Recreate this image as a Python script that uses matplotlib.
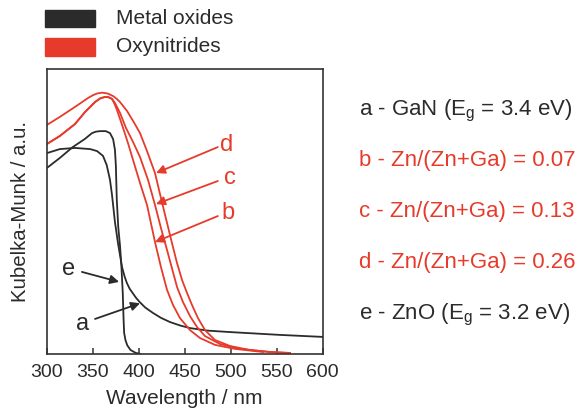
import matplotlib
matplotlib.use("Agg")
import matplotlib.pyplot as plt
from matplotlib.patches import Rectangle

plt.rcParams['font.family'] = ['Liberation Sans', 'DejaVu Sans']
plt.rcParams['mathtext.fontset'] = 'custom'
plt.rcParams['mathtext.rm'] = 'Liberation Sans'
plt.rcParams['mathtext.it'] = 'Liberation Sans'

BLACK = '#2b2b2b'
RED = '#e63b2a'

# Kubelka-Munk spectra (wavelength in nm, intensity in arbitrary units)
wl_a = [300, 314, 330.5, 347, 354.5, 361, 365, 368.6, 370.8, 374, 377.3, 381.7,
        384.5, 387, 390, 393.7, 397, 401, 407, 415.4, 424, 434, 445, 455.7, 475,
        499, 553.7, 600]
km_a = [0.705, 0.719, 0.723, 0.719, 0.712, 0.695, 0.663, 0.611, 0.558, 0.463,
        0.389, 0.305, 0.272, 0.249, 0.229, 0.212, 0.197, 0.182, 0.163, 0.144,
        0.127, 0.112, 0.100, 0.091, 0.082, 0.077, 0.067, 0.060]

wl_e = [300, 314, 328, 341, 349, 353, 357.7, 364, 368.6, 372, 374, 375, 376,
        377.6, 379.5, 381, 382.5, 383.4, 384, 385.5, 387.5, 391, 396.5, 402]
km_e = [0.653, 0.688, 0.726, 0.754, 0.775, 0.780, 0.782, 0.782, 0.775, 0.754,
        0.716, 0.660, 0.540, 0.445, 0.380, 0.310, 0.214, 0.120, 0.074, 0.048,
        0.030, 0.014, 0.004, 0.0]

wl_b = [300, 314, 330.5, 341.4, 352.3, 358, 363.2, 367, 370.8, 373.5, 376.2,
        381.7, 388.2, 394.7, 401.3, 408.9, 417.6, 424.1, 430.7, 437.2, 444.8,
        455.7, 466.6, 482.9, 504.7, 535.2]
km_b = [0.737, 0.765, 0.807, 0.849, 0.884, 0.897, 0.902, 0.901, 0.895, 0.878,
        0.856, 0.804, 0.740, 0.670, 0.600, 0.523, 0.393, 0.305, 0.225, 0.172,
        0.126, 0.084, 0.056, 0.032, 0.018, 0.007]

wl_c = [300, 314, 330.5, 341.4, 352.3, 358, 363.2, 367, 370.8, 374, 379.5, 386,
        393.7, 401.3, 410, 417.6, 424.1, 430.7, 441.6, 448.1, 455.7, 463.3, 472,
        488.4, 510.2, 542.8, 564.6]
km_c = [0.737, 0.765, 0.807, 0.849, 0.884, 0.897, 0.902, 0.901, 0.895, 0.881,
        0.846, 0.793, 0.744, 0.691, 0.611, 0.523, 0.442, 0.365, 0.235, 0.182,
        0.133, 0.095, 0.063, 0.035, 0.018, 0.007, 0.0035]

wl_d = [300, 314, 330.5, 344.6, 350, 354.5, 360, 366, 372, 376, 379.5, 387.1,
        393.7, 401.3, 408.9, 417.6, 424.1, 430.7, 436.1, 441.6, 447, 452.5,
        457.9, 464.4, 472, 482.9, 499.3, 521, 542.8, 564.6]
km_d = [0.804, 0.832, 0.867, 0.898, 0.908, 0.914, 0.917, 0.914, 0.905, 0.895,
        0.884, 0.853, 0.818, 0.775, 0.712, 0.635, 0.547, 0.460, 0.389, 0.319,
        0.260, 0.214, 0.172, 0.126, 0.084, 0.049, 0.028, 0.014, 0.007, 0.0035]

x_ticks = [300, 350, 400, 450, 500, 550, 600]

legend_labels = ['Metal oxides', 'Oxynitrides']
sample_labels = [r'a - GaN (E$_\mathregular{g}$ = 3.4 eV)',
                 'b - Zn/(Zn+Ga) = 0.07',
                 'c - Zn/(Zn+Ga) = 0.13',
                 'd - Zn/(Zn+Ga) = 0.26',
                 r'e - ZnO (E$_\mathregular{g}$ = 3.2 eV)']
sample_colors = [BLACK, RED, RED, RED, BLACK]

fig = plt.figure(figsize=(5.86, 4.19), dpi=100)
ax = fig.add_axes([47 / 586, 1 - 354 / 419, 275.5 / 586, 285 / 419])

lw = 1.3
for xs, ys, col in [(wl_a, km_a, BLACK), (wl_e, km_e, BLACK),
                    (wl_b, km_b, RED), (wl_c, km_c, RED), (wl_d, km_d, RED)]:
    ax.plot(xs, ys, color=col, lw=lw, solid_joinstyle='round')

ax.set_xlim(300, 600)
ax.set_ylim(0, 1)
ax.set_xticks(x_ticks)
ax.set_yticks([])
ax.tick_params(axis='x', direction='in', length=4.5, width=1.1, color='#333333',
               labelsize=14, labelcolor=BLACK, pad=7)
for sp in ax.spines.values():
    sp.set_color('#333333')
    sp.set_linewidth(1.2)

ax.set_xlabel('Wavelength / nm', fontsize=15, color=BLACK, labelpad=6)
ax.set_ylabel('Kubelka-Munk / a.u.', fontsize=14.7, color=BLACK, labelpad=12)

# curve labels with arrows
arrow_kw = dict(arrowstyle='-|>', lw=1.3, mutation_scale=13, shrinkA=0, shrinkB=0)
labels = [('d', (496, 0.735), (486, 0.726), (418.7, 0.635), RED),
          ('c', (499, 0.616), (486, 0.607), (418.7, 0.526), RED),
          ('b', (497, 0.493), (486, 0.484), (417.6, 0.393), RED),
          ('e', (323, 0.297), (338, 0.288), (378.5, 0.253), BLACK),
          ('a', (339, 0.104), (352.3, 0.123), (401.3, 0.178), BLACK)]
for txt, tpos, tail, tip, col in labels:
    ax.text(tpos[0], tpos[1], txt, fontsize=17, color=col, ha='center', va='center')
    ax.annotate('', xy=tip, xytext=tail,
                arrowprops=dict(color=col, **arrow_kw))

# legend swatches
fig.patches.append(Rectangle((45 / 586, 1 - 27 / 419), 50 / 586, 17 / 419,
                             transform=fig.transFigure, color=BLACK))
fig.patches.append(Rectangle((45 / 586, 1 - 56 / 419), 50 / 586, 18 / 419,
                             transform=fig.transFigure, color=RED))
fig.text(116 / 586, 1 - 18.5 / 419, legend_labels[0], fontsize=15, color=BLACK, va='center')
fig.text(116 / 586, 1 - 47 / 419, legend_labels[1], fontsize=15, color=BLACK, va='center')

# sample descriptions
baselines = [115, 166, 217, 268, 319]
for lab, col, by in zip(sample_labels, sample_colors, baselines):
    fig.text(359 / 586, 1 - by / 419, lab, fontsize=16, color=col, va='baseline')

fig.savefig('out.png', dpi=100)
